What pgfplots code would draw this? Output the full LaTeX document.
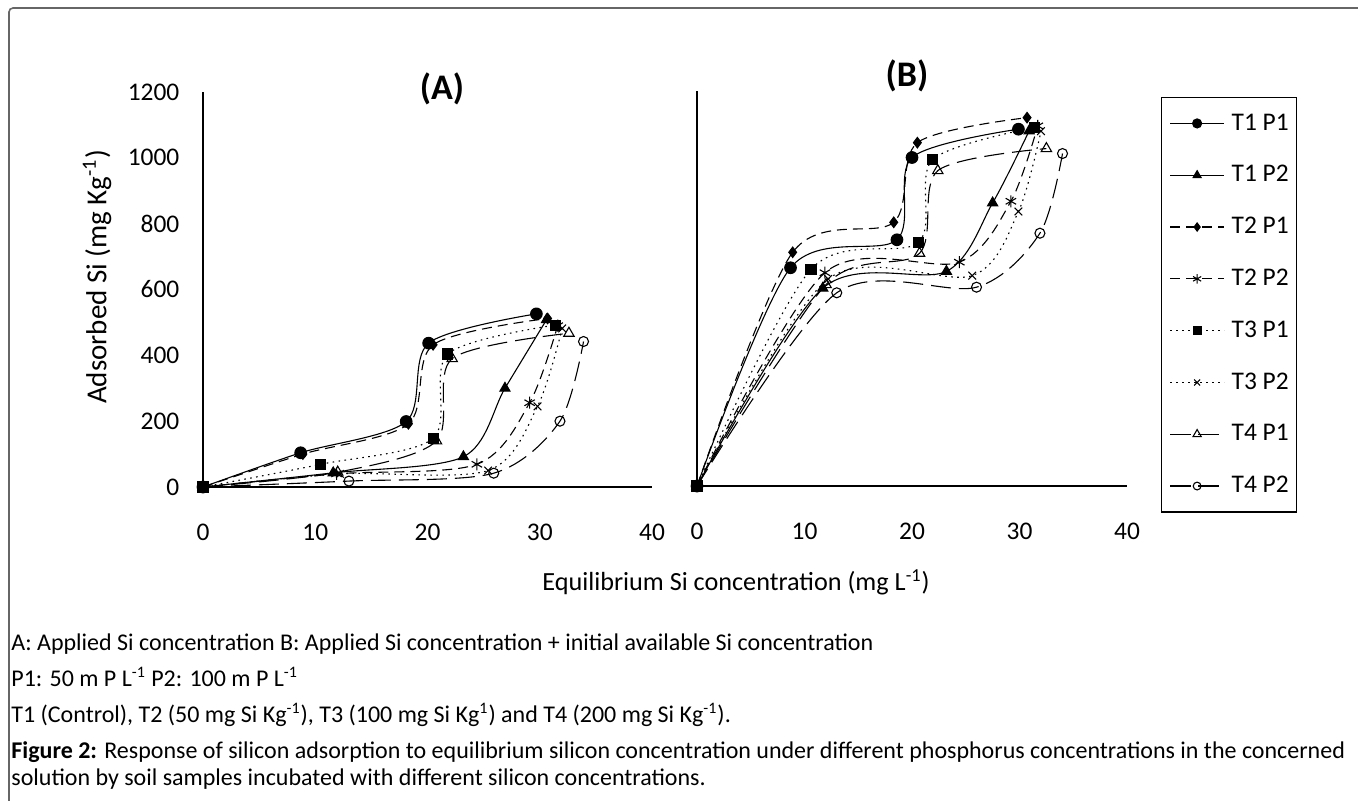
\documentclass[border=0pt]{standalone}
\usepackage{fontspec}
\setmainfont{Carlito}
\usepackage{pgfplots}
\pgfplotsset{compat=1.18}

\pgfplotsset{
  panel/.style={
    scale only axis, height=197.5pt,
    xmin=0, xmax=40, ymin=0, ymax=1200,
    axis x line*=bottom, axis y line*=left,
    axis line style={-, line width=0.8pt, black},
    major tick length=0pt,
    xtick={0,10,20,30,40},
    tick label style={font=\fontsize{12.7}{15}\selectfont},
    /pgf/number format/assume math mode=true,
    /pgf/number format/1000 sep={},
    xticklabel style={anchor=center, yshift=-22.5pt},
    yticklabel style={anchor=east, xshift=-8.3pt},
    clip=false,
    legend image code/.code={\draw[mark repeat=2,mark phase=2,##1,mark options={solid,scale=0.78}] plot coordinates {(0pt,0pt) (13.5pt,0pt) (27pt,0pt)};},
  },
  base/.style={black, line width=0.55pt, smooth},
  t1p1/.style={base, solid, mark=*, mark size=2.9pt, mark options={solid}},
  t1p2/.style={base, solid, mark=triangle*, mark size=2.9pt, mark options={solid}},
  t2p1/.style={base, dash pattern=on 5pt off 3pt, mark=diamond*, mark size=2.6pt, mark options={solid}},
  t2p2/.style={base, dash pattern=on 5pt off 3pt, mark=asterisk, mark size=3pt, mark options={solid}},
  t3p1/.style={base, dash pattern=on 0.8pt off 2.2pt, mark=square*, mark size=2.5pt, mark options={solid}},
  t3p2/.style={base, dash pattern=on 0.8pt off 2.2pt, mark=x, mark size=2.7pt, mark options={solid}},
  t4p1/.style={base, dash pattern=on 10pt off 4pt, mark=triangle, mark size=3pt, mark options={solid}},
  t4p2/.style={base, dash pattern=on 10pt off 4pt, mark=o, mark size=2.5pt, mark options={solid}},
}

\begin{document}
\begin{tikzpicture}
\useasboundingbox (0pt,0pt) rectangle (679pt,400pt);
\begin{scope}
  \clip (0pt,0pt) rectangle (679pt,400pt);
  \draw[black!60, line width=0.8pt, rounded corners=2pt] (4.5pt,396pt) rectangle (700pt,-20pt);
\end{scope}

% (A) applied Si
\begin{axis}[panel, at={(101.5pt,156.5pt)}, anchor=south west, width=224.5pt,
  ytick={0,200,400,600,800,1000,1200}]
\addplot[t1p1] coordinates {(0,0) (8.7,104) (18.1,199) (20.1,437) (29.7,526)};
\addplot[t1p2] coordinates {(0,0) (11.6,43) (23.2,92) (26.9,300) (30.6,508)};
\addplot[t2p1] coordinates {(0,0) (8.9,100) (18.3,192) (20.5,432) (30.7,512)};
\addplot[t2p2] coordinates {(0,0) (11.9,40) (24.4,69) (29.1,256) (31.6,490)};
\addplot[t3p1] coordinates {(0,0) (10.5,69) (20.5,148) (21.8,404) (31.4,492)};
\addplot[t3p2] coordinates {(0,0) (12.2,40) (25.4,50) (29.8,245) (32.0,482)};
\addplot[t4p1] coordinates {(0,0) (12.0,45) (20.8,140) (22.2,390) (32.6,467)};
\addplot[t4p2] coordinates {(0,0) (13.0,18) (25.9,42) (31.8,200) (33.9,442)};
\end{axis}

% (B) applied Si + initial available Si
\begin{axis}[panel, at={(348.5pt,157pt)}, anchor=south west, width=215pt,
  ytick=\empty,
  legend cell align=left,
  legend style={at={(1.079,0.985)}, anchor=north west, draw=black, line width=0.6pt,
    inner xsep=4pt, inner ysep=0pt, column sep=3.5pt,
    font=\fontsize{12.7}{15}\selectfont,
    nodes={inner sep=0pt, minimum height=25.9pt}}]
\addplot[t1p1] coordinates {(0,0) (8.7,663) (18.6,748) (20.0,998) (29.9,1084)};
\addlegendentry{T1 P1}
\addplot[t1p2] coordinates {(0,0) (11.7,601) (23.2,652) (27.5,860) (30.9,1079)};
\addlegendentry{T1 P2}
\addplot[t2p1] coordinates {(0,0) (8.9,710) (18.3,801) (20.5,1043) (30.7,1119)};
\addlegendentry{T2 P1}
\addplot[t2p2] coordinates {(0,0) (11.9,648) (24.4,680) (29.2,865) (31.7,1094)};
\addlegendentry{T2 P2}
\addplot[t3p1] coordinates {(0,0) (10.6,658) (20.6,740) (21.9,991) (31.4,1089)};
\addlegendentry{T3 P1}
\addplot[t3p2] coordinates {(0,0) (12.2,629) (25.6,639) (29.9,834) (32.0,1078)};
\addlegendentry{T3 P2}
\addplot[t4p1] coordinates {(0,0) (12.0,612) (20.7,707) (22.4,958) (32.5,1025)};
\addlegendentry{T4 P1}
\addplot[t4p2] coordinates {(0,0) (13.0,587) (26.0,604) (31.9,768) (34.0,1010)};
\addlegendentry{T4 P2}
\end{axis}

\node[font=\bfseries\fontsize{18}{20}\selectfont] at (221pt,355.5pt) {(A)};
\node[font=\bfseries\fontsize{18}{20}\selectfont] at (453.5pt,362pt) {(B)};
\node[rotate=90, font=\fontsize{14.5}{17}\selectfont] at (48.5pt,261.5pt) {Adsorbed Si (mg Kg\textsuperscript{-1})};
\node[font=\fontsize{13.1}{15}\selectfont] at (368pt,109pt) {Equilibrium Si concentration (mg L\textsuperscript{-1})};

\begin{scope}[every node/.style={anchor=base west, inner sep=0pt, font=\fontsize{12}{14}\selectfont}]
\node at (5.5pt,75pt) {A: Applied Si concentration B: Applied Si concentration + initial available Si concentration};
\node at (5.5pt,57pt) {P1: 50 m P L\textsuperscript{-1} P2: 100 m P L\textsuperscript{-1}};
\node at (5.5pt,39pt) {T1 (Control), T2 (50 mg Si Kg\textsuperscript{-1}), T3 (100 mg Si Kg\textsuperscript{1}) and T4 (200 mg Si Kg\textsuperscript{-1}).};
\node at (5.5pt,21pt) {\textbf{Figure 2:} Response of silicon adsorption to equilibrium silicon concentration under different phosphorus concentrations in the concerned};
\node at (5.5pt,7.5pt) {solution by soil samples incubated with different silicon concentrations.};
\end{scope}
\end{tikzpicture}
\end{document}
